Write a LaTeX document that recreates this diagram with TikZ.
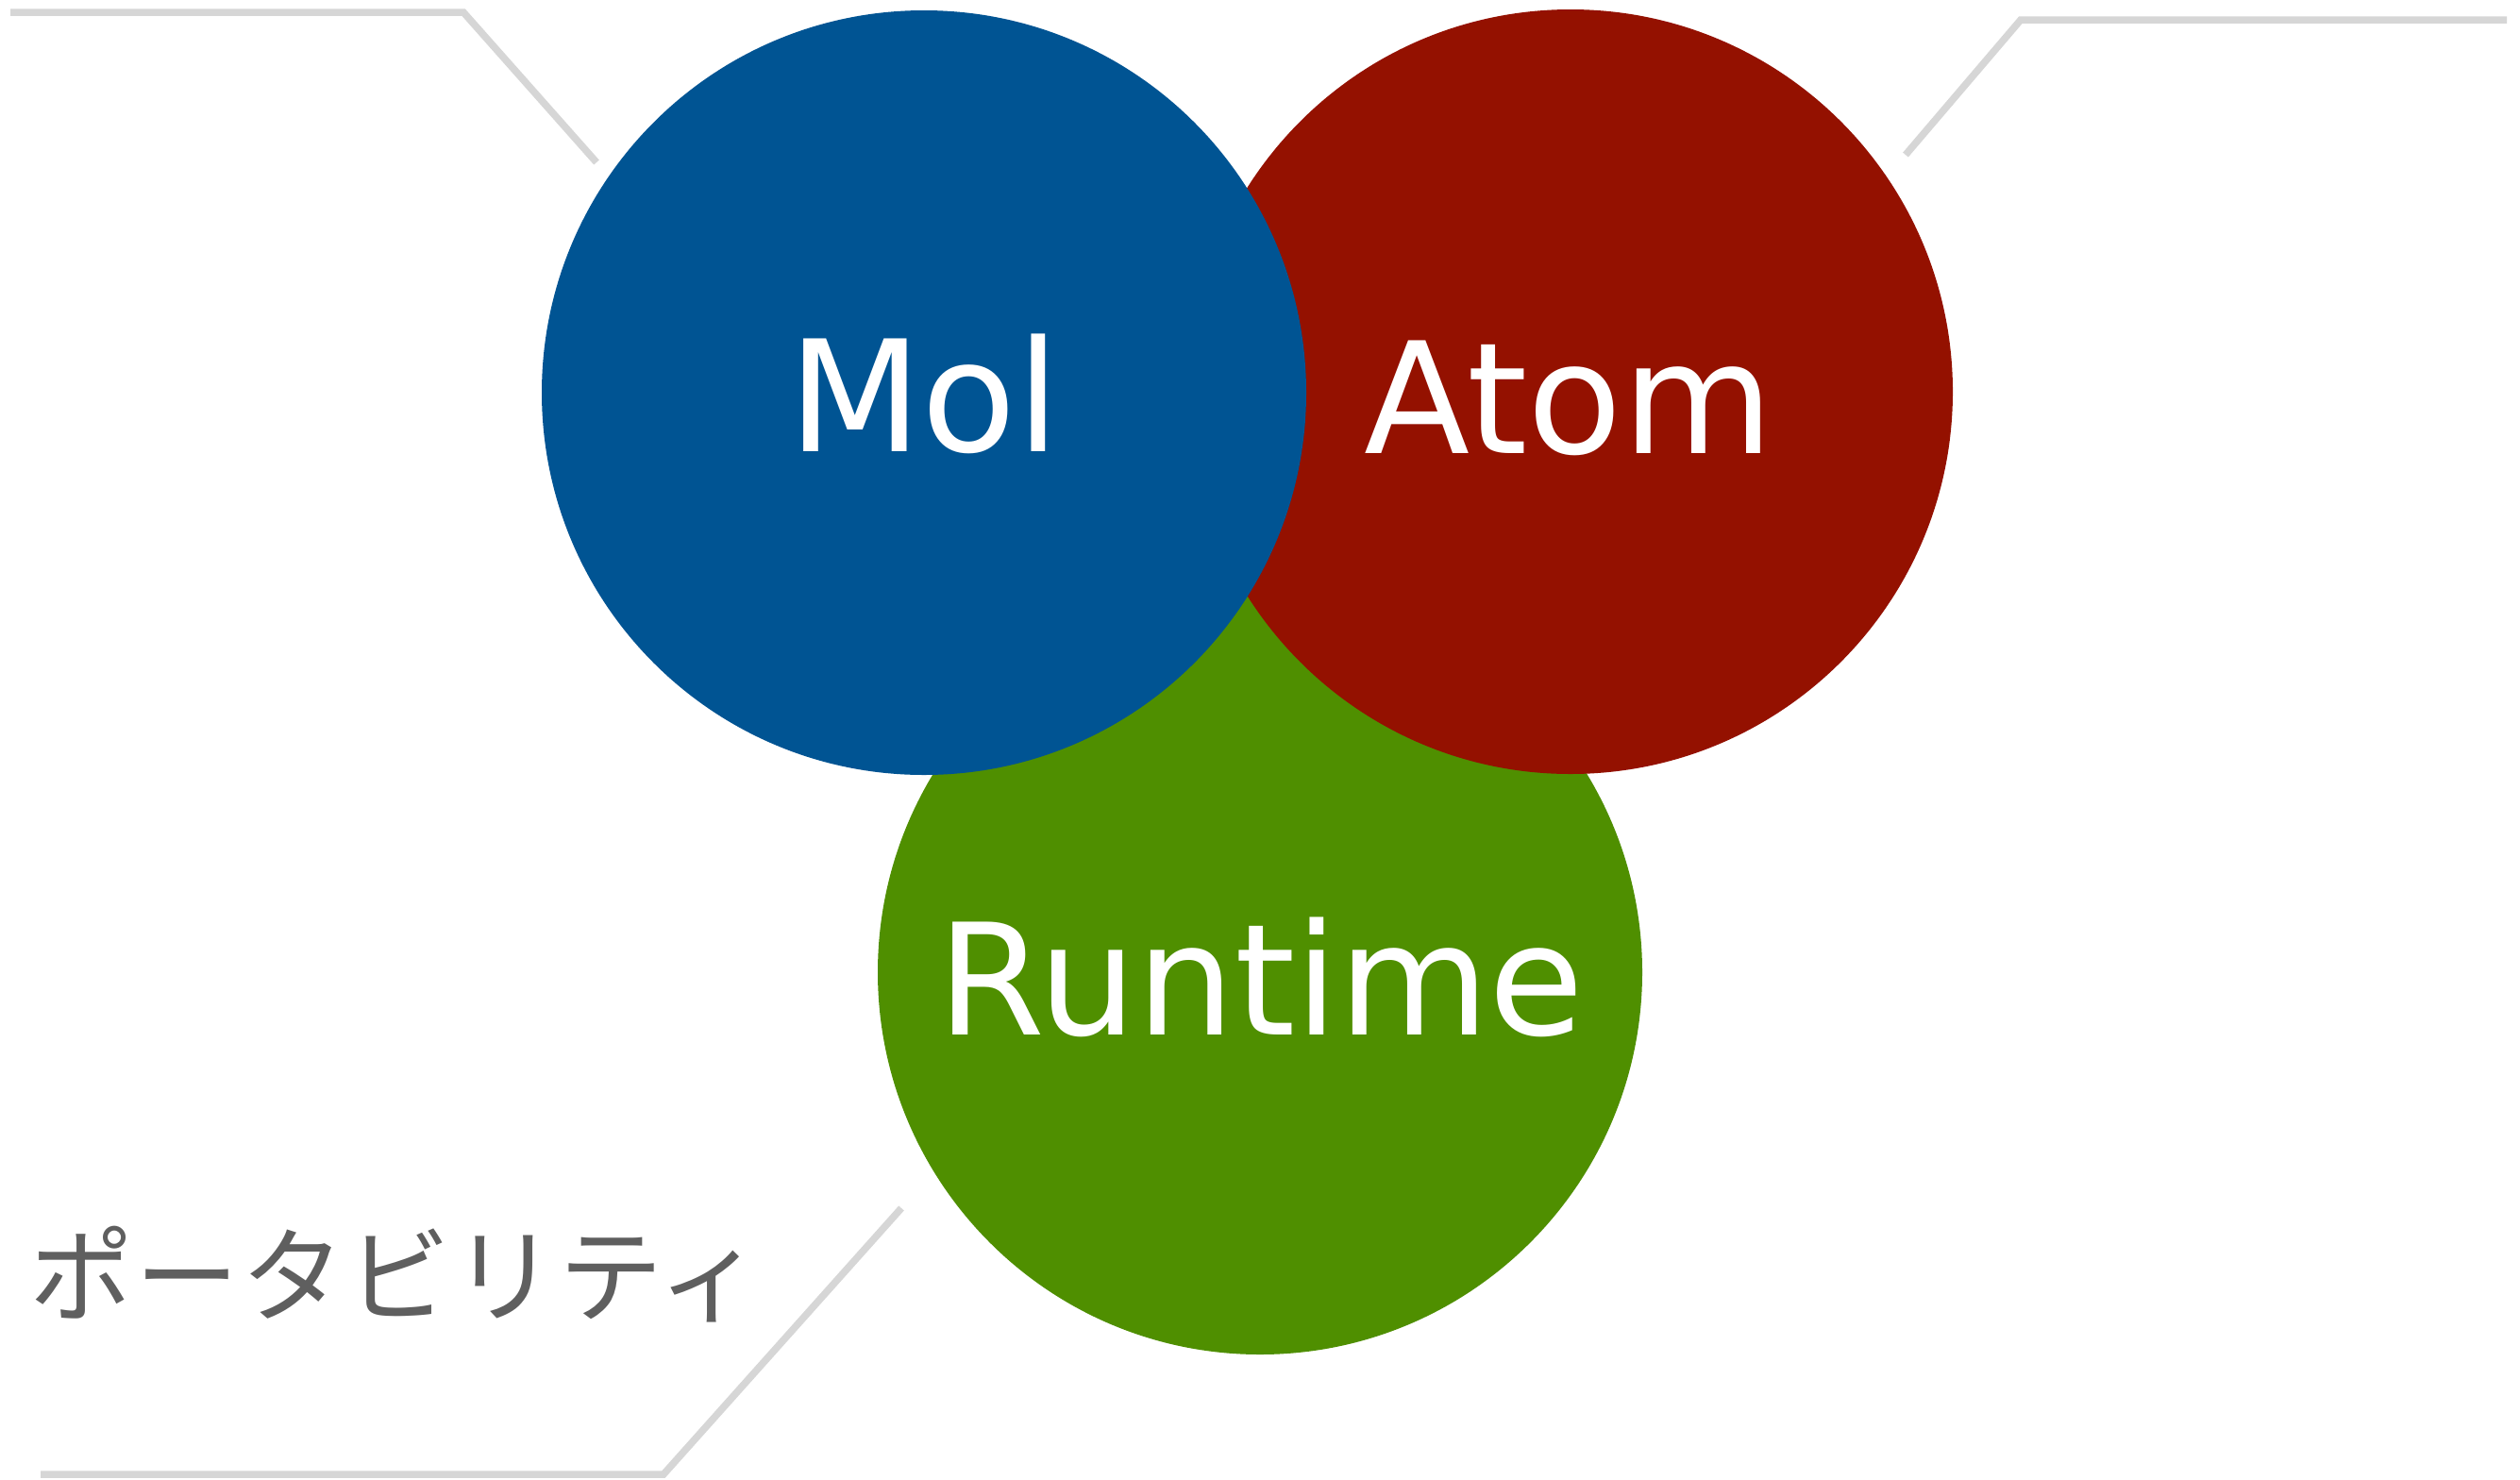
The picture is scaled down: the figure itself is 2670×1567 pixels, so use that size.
\documentclass[tikz,border=0pt]{standalone}
\usepackage{fontspec}
\setmainfont{DejaVu Sans}
\newfontfamily\cjkfont{Noto Sans CJK JP}[LetterSpace=2]
\definecolor{ocean}{HTML}{005493}
\definecolor{cayenne}{HTML}{941100}
\definecolor{clover}{HTML}{4F8F00}
\definecolor{leader}{HTML}{D6D6D6}
\definecolor{labelgray}{HTML}{5F5F5F}
\begin{document}
\begin{tikzpicture}[x=1pt,y=-1pt,
  bigcircle/.style={circle, inner sep=0pt, minimum size=810pt, draw=none},
  bigtext/.style={anchor=base, text=white, font=\fontsize{164}{190}\selectfont, inner sep=0pt},
  leaderline/.style={draw=leader, line width=7.5pt, line join=miter}]
\useasboundingbox (0,0) rectangle (2670,1567);
\fill[white] (0,0) rectangle (2670,1567);
% circles
\node[bigcircle, fill=clover] (runtimeC) at (1335,1030) {};
\node[bigcircle, fill=cayenne] (atomC) at (1664,415) {};
\node[bigcircle, fill=ocean] (molC) at (979,416) {};
% labels
\node[bigtext] (molT) at (979,478) {Mol};
\node[bigtext] (atomT) at (1662,480) {Atom};
\node[bigtext] (runtimeT) at (1336,1096) {Runtime};
% leader lines
\coordinate (tlA) at (11,13);
\coordinate (tlB) at (491,13);
\coordinate (tlC) at (632,172);
\coordinate (trA) at (2019,164);
\coordinate (trB) at (2141,21);
\coordinate (trC) at (2656,21);
\coordinate (blA) at (43,1562);
\coordinate (blB) at (703,1562);
\coordinate (blC) at (955,1280);
\draw[leaderline] (tlA) -- (tlB) -- (tlC);
\draw[leaderline] (trA) -- (trB) -- (trC);
\draw[leaderline] (blA) -- (blB) -- (blC);
% bottom-left text
\node[anchor=base west, inner sep=0pt, text=labelgray, font=\cjkfont\fontsize{110}{130}\selectfont] (portT) at (31,1392) {ポータビリティ};
\end{tikzpicture}
\end{document}
